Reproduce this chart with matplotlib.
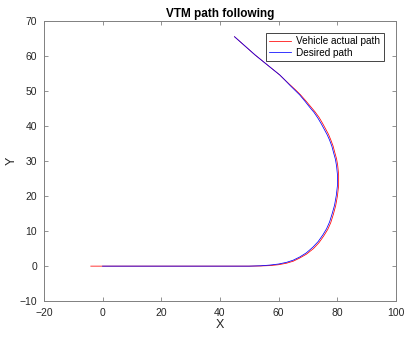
import numpy as np
import matplotlib.pyplot as plt

plt.rcParams['font.family'] = ['Liberation Sans', 'DejaVu Sans']

# desired path
x_des = [0, 20, 40, 50, 54, 57, 60, 62.8, 65, 67.2, 69.5, 71.7, 73.5, 75.1, 76.4, 77.4,
         78.3, 79.1, 79.7, 80.1, 80.1, 79.8, 79.4, 78.8, 78.2, 77.4, 76.6, 75.7, 74.6,
         73.4, 72.1, 70.6, 69, 67.2, 65.5, 63.8, 62.1, 60.4, 57, 52, 45]
y_des = [0, 0, 0, 0, 0.1, 0.3, 0.6, 1.1, 1.7, 2.6, 3.8, 5.4, 7.0, 8.9, 10.7, 12.6,
         15.0, 17.4, 20.2, 23.1, 26, 28.5, 30.5, 32.3, 34.2, 36, 37.5, 38.9, 40.6,
         42.3, 43.9, 45.4, 47.1, 48.9, 50.3, 51.7, 53.2, 54.6, 56.9, 60.3, 65.5]

# vehicle actual path
x_act = [-4, 0, 20, 40, 50, 54, 57, 60, 62.8, 65, 67.2, 69.5, 71.9, 73.8, 75.4, 76.8,
         77.8, 78.7, 79.5, 80.1, 80.5, 80.5, 80.2, 79.8, 79.2, 78.6, 77.8, 77, 76.1,
         75, 73.8, 72.4, 70.9, 69.3, 67.4, 65.7, 63.9, 62.1, 60.4, 57, 52, 45]
y_act = [0, 0, 0, 0, 0, 0.05, 0.15, 0.4, 0.85, 1.4, 2.3, 3.4, 5.0, 6.7, 8.6, 10.5,
         12.4, 14.8, 17.3, 20.1, 23.1, 26, 28.6, 30.6, 32.4, 34.3, 36.1, 37.7, 39.1,
         40.8, 42.5, 44.1, 45.6, 47.2, 49.0, 50.4, 51.8, 53.2, 54.6, 56.9, 60.3, 65.5]

fig = plt.figure(figsize=(4.06, 3.38), dpi=100)
ax = fig.add_axes([0.108, 0.109, 0.867, 0.829])

ax.plot(x_act, y_act, color='r', lw=0.55, label='Vehicle actual path')
ax.plot(x_des, y_des, color='b', lw=0.55, label='Desired path')

ax.set_xlim(-20, 100)
ax.set_ylim(-10, 70)
ax.set_xticks(np.arange(-20, 101, 20))
ax.set_yticks(np.arange(-10, 71, 10))

grey = '#262626'
for s in ax.spines.values():
    s.set_color('#808080')
    s.set_linewidth(0.7)
ax.tick_params(direction='in', top=True, right=True, length=3, width=0.6,
               colors='#808080', labelcolor=grey, labelsize=7.5, pad=5)

ax.set_xlabel('X', fontsize=9, color=grey, labelpad=1)
ax.set_ylabel('Y', fontsize=9, color=grey, labelpad=1)
ax.set_title('VTM path following', fontsize=8.5, fontweight='bold', pad=3)

leg = ax.legend(loc='upper right', fontsize=7.2, fancybox=False, framealpha=1,
                edgecolor=grey, borderpad=0.35, handlelength=2.2, handletextpad=0.5,
                labelspacing=0.15, borderaxespad=1.2)
leg.get_frame().set_linewidth(0.6)

fig.savefig('out.png', dpi=100)
